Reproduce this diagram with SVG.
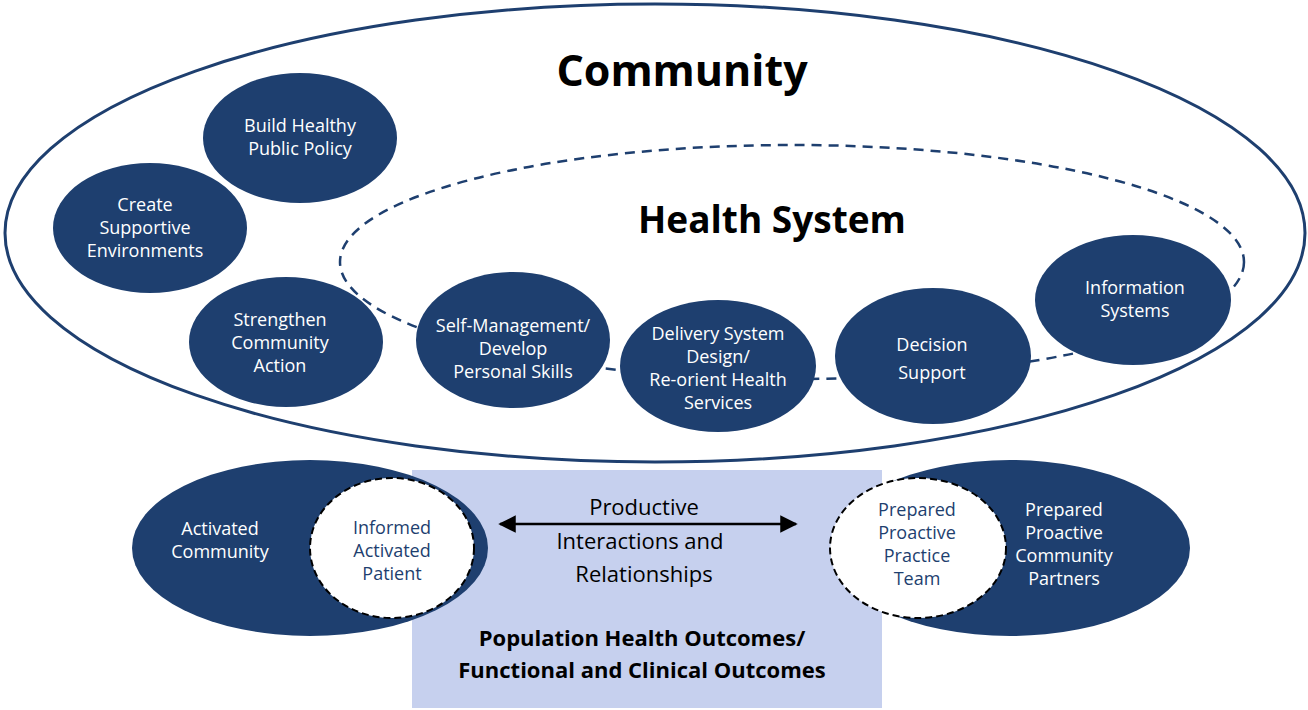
<svg xmlns="http://www.w3.org/2000/svg" width="1308" height="710" viewBox="0 0 1308 710">
<style>
.n{fill:#1e3f6f}
.t{font-family:"Open Sans",sans-serif;font-size:18px;fill:#fff;text-anchor:middle}
.b{font-family:"Open Sans",sans-serif;font-size:18px;fill:#1e3f6f;text-anchor:middle}
.k{font-family:"Open Sans",sans-serif;fill:#000;text-anchor:middle}
</style>
<defs><marker id="a" viewBox="0 0 10 10" refX="9" refY="5" markerWidth="7" markerHeight="7" orient="auto-start-reverse"><path d="M0,0 L10,5 L0,10 z" fill="#000"/></marker></defs>
<rect width="1308" height="710" fill="#fff"/>
<rect x="412" y="470" width="470" height="238" fill="#c6d0ee"/>
<ellipse cx="655" cy="233" rx="650" ry="229" fill="none" stroke="#1e3f6f" stroke-width="3"/>
<text class="k" x="682" y="86" font-size="43" font-weight="bold">Community</text>
<g id="connectors">
<ellipse cx="792" cy="262" rx="452" ry="117" fill="none" stroke="#1e3f6f" stroke-width="2.5" stroke-dasharray="10 7"/>
<line x1="500" y1="524" x2="796" y2="524" stroke="#000" stroke-width="2.5" marker-start="url(#a)" marker-end="url(#a)"/>
</g>
<text class="k" x="772" y="233" font-size="37" font-weight="bold">Health System</text>
<g id="n1"><ellipse class="n" cx="300" cy="138" rx="97" ry="65"/><text class="t" x="300" y="132">Build Healthy</text><text class="t" x="300" y="155">Public Policy</text></g>
<g id="n2"><ellipse class="n" cx="150" cy="228" rx="97" ry="65"/><text class="t" x="145" y="211">Create</text><text class="t" x="145" y="234">Supportive</text><text class="t" x="145" y="257">Environments</text></g>
<g id="n3"><ellipse class="n" cx="286" cy="342" rx="97" ry="65"/><text class="t" x="280" y="326">Strengthen</text><text class="t" x="280" y="349">Community</text><text class="t" x="280" y="372">Action</text></g>
<g id="n4"><ellipse class="n" cx="513" cy="340" rx="97" ry="68"/><text class="t" x="513" y="332">Self-Management/</text><text class="t" x="513" y="355">Develop</text><text class="t" x="513" y="378">Personal Skills</text></g>
<g id="n5"><ellipse class="n" cx="718" cy="366" rx="98" ry="66"/><text class="t" x="718" y="340">Delivery System</text><text class="t" x="718" y="363">Design/</text><text class="t" x="718" y="386">Re-orient Health</text><text class="t" x="718" y="409">Services</text></g>
<g id="n6"><ellipse class="n" cx="933" cy="356" rx="98" ry="68"/><text class="t" x="932" y="351">Decision</text><text class="t" x="932" y="379">Support</text></g>
<g id="n7"><ellipse class="n" cx="1133" cy="300" rx="98" ry="65"/><text class="t" x="1135" y="294">Information</text><text class="t" x="1135" y="317">Systems</text></g>
<g id="n8"><ellipse class="n" cx="310" cy="548" rx="178" ry="88"/><text class="t" x="220" y="535">Activated</text><text class="t" x="220" y="558">Community</text>
<ellipse cx="392" cy="548" rx="82" ry="70" fill="#fff" stroke="#000" stroke-width="2" stroke-dasharray="7 4"/><text class="b" x="392" y="534">Informed</text><text class="b" x="392" y="557">Activated</text><text class="b" x="392" y="580">Patient</text></g>
<g id="n9"><ellipse class="n" cx="1010" cy="548" rx="180" ry="88"/><text class="t" x="1064" y="516">Prepared</text><text class="t" x="1064" y="539">Proactive</text><text class="t" x="1064" y="562">Community</text><text class="t" x="1064" y="585">Partners</text>
<ellipse cx="918" cy="548" rx="88" ry="70" fill="#fff" stroke="#000" stroke-width="2" stroke-dasharray="7 4"/><text class="b" x="917" y="516">Prepared</text><text class="b" x="917" y="539">Proactive</text><text class="b" x="917" y="562">Practice</text><text class="b" x="917" y="585">Team</text></g>
<g id="center"><text class="k" x="644" y="515" font-size="22">Productive</text><text class="k" x="640" y="549" font-size="22">Interactions and</text><text class="k" x="644" y="582" font-size="22">Relationships</text>
<text class="k" x="642" y="646" font-size="22" font-weight="bold">Population Health Outcomes/</text><text class="k" x="642" y="678" font-size="22" font-weight="bold">Functional and Clinical Outcomes</text></g>
</svg>
